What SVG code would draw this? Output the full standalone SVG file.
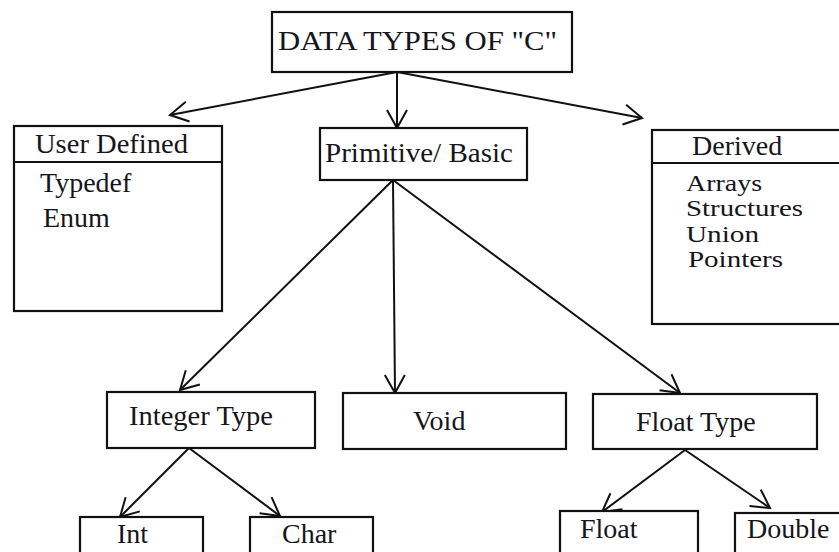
<svg xmlns="http://www.w3.org/2000/svg" width="839" height="552" viewBox="0 0 839 552">
<defs>
<style>
.box{fill:#fff;stroke:#111;stroke-width:2.2}
.c{fill:none;stroke:#111;stroke-width:2}
</style>
<marker id="ah" viewBox="-20 -12 22 24" markerWidth="22" markerHeight="24" refX="0" refY="0" orient="auto" markerUnits="userSpaceOnUse">
<path d="M-18,-10 L0,0 L-18,10" fill="none" stroke="#111" stroke-width="2"/>
</marker>
</defs>
<rect width="839" height="552" fill="#fff"/>
<g id="connectors">
<line class="c" x1="397" y1="72" x2="170" y2="115" marker-end="url(#ah)"/>
<line class="c" x1="397" y1="72" x2="397" y2="128" marker-end="url(#ah)"/>
<line class="c" x1="397" y1="72" x2="642" y2="118" marker-end="url(#ah)"/>
<line class="c" x1="393" y1="180" x2="180" y2="390" marker-end="url(#ah)"/>
<line class="c" x1="393" y1="180" x2="395" y2="393" marker-end="url(#ah)"/>
<line class="c" x1="393" y1="180" x2="680" y2="393" marker-end="url(#ah)"/>
<line class="c" x1="189" y1="448" x2="120" y2="517" marker-end="url(#ah)"/>
<line class="c" x1="189" y1="448" x2="280" y2="516" marker-end="url(#ah)"/>
<line class="c" x1="685" y1="450" x2="602" y2="512" marker-end="url(#ah)"/>
<line class="c" x1="685" y1="450" x2="770" y2="508" marker-end="url(#ah)"/>
</g>
<g font-family="Liberation Serif" font-size="28" fill="#151520">
<g id="data-types">
<rect class="box" x="272" y="12" width="300" height="60"/>
<text x="278" y="50" textLength="279" lengthAdjust="spacingAndGlyphs">DATA TYPES OF "C"</text>
</g>
<g id="user-defined">
<rect class="box" x="14" y="126" width="208" height="185"/>
<line class="c" x1="14" y1="162" x2="222" y2="162"/>
<text x="35" y="153" textLength="153" lengthAdjust="spacingAndGlyphs">User Defined</text>
<text x="40" y="192">Typedef</text>
<text x="43" y="227">Enum</text>
</g>
<g id="primitive">
<rect class="box" x="320" y="128" width="207" height="52"/>
<text x="325" y="162" textLength="188" lengthAdjust="spacingAndGlyphs">Primitive/ Basic</text>
</g>
<g id="derived">
<rect class="box" x="652" y="130" width="200" height="194"/>
<line class="c" x1="652" y1="163" x2="839" y2="163"/>
<text x="692" y="155">Derived</text>
<text font-size="24" x="686" y="191" textLength="76" lengthAdjust="spacingAndGlyphs">Arrays</text>
<text font-size="24" x="686" y="216" textLength="117" lengthAdjust="spacingAndGlyphs">Structures</text>
<text font-size="24" x="686" y="242" textLength="73" lengthAdjust="spacingAndGlyphs">Union</text>
<text font-size="24" x="688" y="267" textLength="95" lengthAdjust="spacingAndGlyphs">Pointers</text>
</g>
<g id="integer-type">
<rect class="box" x="107" y="392" width="208" height="56"/>
<text x="129" y="425" textLength="144" lengthAdjust="spacingAndGlyphs">Integer Type</text>
</g>
<g id="void">
<rect class="box" x="343" y="393" width="223" height="56"/>
<text x="413" y="430">Void</text>
</g>
<g id="float-type">
<rect class="box" x="593" y="394" width="224" height="55"/>
<text x="636" y="431">Float Type</text>
</g>
<g id="int">
<rect class="box" x="80" y="517" width="123" height="45"/>
<text x="117" y="543">Int</text>
</g>
<g id="char">
<rect class="box" x="250" y="517" width="123" height="45"/>
<text x="282" y="543">Char</text>
</g>
<g id="float">
<rect class="box" x="560" y="511" width="138" height="50"/>
<text x="580" y="538">Float</text>
</g>
<g id="double">
<rect class="box" x="735" y="513" width="120" height="50"/>
<text x="747" y="538">Double</text>
</g>
</g>
</svg>
